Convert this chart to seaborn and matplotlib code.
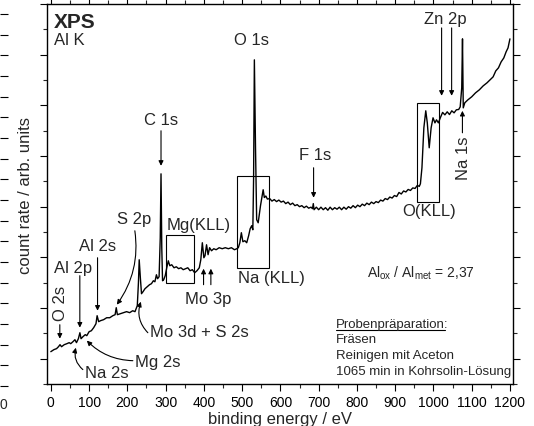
import matplotlib
matplotlib.use("Agg")
import matplotlib.pyplot as plt
import seaborn as sns
import pandas as pd
from matplotlib.patches import Rectangle
from matplotlib.lines import Line2D
from matplotlib.ticker import MultipleLocator

# ---------------- data ----------------
energy = [0, 8, 15, 20, 24, 28, 35, 42, 48, 52, 58, 63, 67, 72, 76, 79, 84, 90, 94, 100,
          106, 112, 118, 121, 125, 130, 138, 146, 154, 162, 168, 171, 174, 182, 190, 198, 206, 214, 220, 226,
          229, 231, 234, 237, 241, 246, 252, 258, 263, 268, 272, 276, 279, 283, 286, 288, 290, 292, 295, 299,
          303, 307, 311, 316, 322, 328, 334, 340, 346, 352, 358, 364, 370, 376, 382, 388, 392, 396, 400, 403,
          407, 411, 415, 420, 426, 432, 440, 448, 456, 464, 472, 480, 486, 490, 494, 498, 502, 507, 512, 517,
          521, 525, 528, 530, 532, 535, 538, 542, 548, 555, 558, 562, 566, 572, 578, 584, 590, 596, 602, 608,
          614, 620, 626, 632, 638, 644, 650, 656, 662, 668, 674, 680, 684, 686, 688, 694, 700, 706, 712, 718,
          724, 730, 736, 742, 748, 754, 760, 766, 772, 778, 784, 790, 796, 802, 808, 814, 820, 826, 832, 838,
          844, 850, 856, 862, 868, 874, 880, 886, 892, 898, 904, 910, 916, 922, 928, 934, 940, 946, 952, 958,
          963, 966, 970, 975, 980, 984, 989, 994, 999, 1004, 1008, 1013, 1018, 1024, 1030, 1036, 1042, 1048, 1054, 1060,
          1066, 1070, 1074, 1076, 1078, 1082, 1090, 1100, 1110, 1120, 1130, 1140, 1148, 1156, 1163, 1170, 1177, 1184, 1190, 1195,
          1200]
counts = [0.69, 0.89, 0.99, 1.18, 1.38, 1.18, 1.38, 1.48, 1.58, 1.48, 1.68, 1.87, 1.58, 1.97, 2.56, 1.97, 2.17, 2.37, 2.27, 2.66,
          2.76, 3.06, 3.45, 4.24, 3.65, 3.75, 3.85, 4.04, 4.04, 4.24, 4.34, 5.03, 4.34, 4.44, 4.54, 4.64, 4.54, 4.73, 4.64, 5.23,
          7.50, 9.76, 7.99, 6.41, 6.61, 6.90, 7.10, 7.30, 7.40, 7.69, 7.59, 8.28, 7.89, 8.09, 11.93, 18.24, 10.95, 7.69, 7.79, 8.19,
          8.97, 9.66, 9.17, 9.27, 8.97, 9.07, 8.88, 8.97, 8.78, 8.88, 8.97, 8.68, 8.78, 8.48, 8.68, 8.97, 9.76, 11.44, 9.96, 10.16,
          11.24, 10.26, 10.95, 10.65, 10.85, 10.75, 10.95, 10.85, 10.95, 10.85, 10.95, 10.75, 10.85, 10.95, 11.44, 12.43, 11.54, 11.64, 11.44, 12.13,
          12.82, 13.12, 12.72, 17.85, 29.49, 20.81, 13.71, 13.41, 15.09, 16.67, 15.90, 16.05, 15.75, 15.80, 15.55, 15.70, 15.50, 15.65, 15.45, 15.55,
          15.30, 15.45, 15.20, 15.35, 15.10, 15.20, 15.00, 15.10, 14.90, 15.05, 14.85, 14.95, 14.80, 15.30, 14.70, 14.95, 14.70, 14.95, 14.70, 14.90,
          14.65, 14.95, 14.70, 14.90, 14.75, 14.95, 14.70, 14.95, 14.75, 15.00, 14.85, 15.10, 14.90, 15.15, 15.00, 15.25, 15.10, 15.35, 15.20, 15.45,
          15.30, 15.50, 15.40, 15.65, 15.55, 15.80, 15.70, 15.95, 15.85, 16.10, 16.00, 16.40, 16.25, 16.55, 16.45, 16.70, 16.60, 16.85, 16.80, 17.10,
          17.00, 17.26, 18.84, 22.78, 24.46, 23.27, 20.81, 22.78, 23.77, 23.27, 23.57, 23.27, 23.77, 24.30, 24.06, 24.36, 24.09, 24.46, 24.26, 24.56,
          24.59, 24.85, 26.73, 31.56, 24.75, 25.25, 25.54, 25.84, 26.23, 26.53, 26.92, 27.22, 27.51, 27.81, 28.40, 28.70, 29.29, 29.68, 30.28, 30.67,
          31.56]

peak_labels = ["O 1s", "C 1s", "F 1s", "Zn 2p", "Na 1s", "O(KLL)", "Na (KLL)", "Mg(KLL)", "Mo 3p",
               "Mo 3d + S 2s", "S 2p", "Al 2s", "Al 2p", "O 2s", "Na 2s", "Mg 2s"]
xticks = [0, 100, 200, 300, 400, 500, 600, 700, 800, 900, 1000, 1100, 1200]

df = pd.DataFrame({"energy": energy, "counts": counts})

# ---------------- style ----------------
sns.set_style("ticks")
plt.rcParams["font.family"] = ["Liberation Sans", "DejaVu Sans"]
plt.rcParams["mathtext.fontset"] = "custom"
plt.rcParams["mathtext.rm"] = "Liberation Sans"

W, H = 534, 427
fig = plt.figure(figsize=(W / 100, H / 100), dpi=100)
fig.patch.set_facecolor("white")

# ghost fragment of a neighbouring panel at the left edge
gax = fig.add_axes([-0.2, 1 - 387 / H, 0.2, (387 - 15) / H])
for s in gax.spines.values():
    s.set_visible(False)
gax.set_ylim(0, 18)
gax.set_yticks(range(19))
gax.yaxis.tick_right()
gax.tick_params(axis="y", direction="out", length=6, width=0.8, colors="black", labelright=False)
gax.set_xticks([])
gax.patch.set_alpha(0)
fig.text(0.0, 1 - 405 / H, "0", fontsize=10, ha="left", va="center")

ax = fig.add_axes([47 / W, 1 - 385 / H, 466 / W, 380 / H])
sns.lineplot(data=df, x="energy", y="counts", ax=ax, color="black", lw=1.0,
             sort=False, estimator=None)

ax.set_xlim(-10, 1208)
ax.set_ylim(-2.5, 35)
ax.set_xticks(xticks)
ax.xaxis.set_minor_locator(MultipleLocator(50))
ax.yaxis.set_major_locator(MultipleLocator(5))
ax.yaxis.set_minor_locator(MultipleLocator(2.5))
ax.tick_params(which="major", direction="out", length=5, width=0.8, top=True, right=True,
               labelleft=False, labelsize=10, pad=3, colors="black")
ax.tick_params(which="minor", direction="out", length=3, width=0.8, top=True, right=True)
for s in ax.spines.values():
    s.set_linewidth(1.0)
    s.set_color("black")
    s.set_visible(True)

ax.set_xlabel("binding energy / eV", fontsize=12)
ax.xaxis.set_label_coords(0.5, -0.071)
ax.set_ylabel("count rate / arb. units", fontsize=12)
ax.yaxis.set_label_coords(-0.030, 0.5)

# title texts
ax.text(0.015, 0.953, "XPS", transform=ax.transAxes, fontsize=15, fontweight="bold", va="center", ha="left")
ax.text(0.015, 0.906, "Al K", transform=ax.transAxes, fontsize=12, va="center", ha="left")

FS = 12
arrow = dict(arrowstyle="-|>", color="black", lw=0.8, mutation_scale=7, shrinkA=0, shrinkB=0)

def label(txt, x, y, **kw):
    ax.text(x, y, txt, fontsize=FS, ha=kw.pop("ha", "center"), va=kw.pop("va", "center"), **kw)

def arr(x0, y0, x1, y1, rad=0.0):
    a = dict(arrow)
    a["connectionstyle"] = f"arc3,rad={rad}"
    ax.annotate("", xy=(x1, y1), xytext=(x0, y0), arrowprops=a)

label(peak_labels[0], 525.5, 31.46)
label(peak_labels[1], 287.6, 23.57)
arr(288, 22.49, 288, 19.03)
label(peak_labels[2], 690, 20.12)
arr(686.8, 18.84, 686.8, 15.88)
label(peak_labels[3], 1030, 33.53)
arr(1021.4, 32.64, 1021.4, 25.94)
arr(1047.6, 32.64, 1047.6, 25.94)
label(peak_labels[4], 1079, 19.9, rotation=90)
arr(1075.8, 22.29, 1075.8, 24.46)
label(peak_labels[5], 988, 14.60)
label(peak_labels[6], 577.8, 7.99)
label(peak_labels[7], 387, 13.21)
label(peak_labels[8], 410.5, 5.92)
arr(399.2, 7.30, 399.2, 8.88)
arr(418.3, 7.30, 418.3, 8.88)
label(peak_labels[9], 259, 2.66, ha="left")
arr(253.6, 2.56, 235.3, 5.62, rad=-0.3)
label(peak_labels[10], 217, 13.81)
arr(219.6, 12.62, 172.5, 5.33, rad=-0.2)
label(peak_labels[11], 122.9, 11.14)
arr(122.1, 9.96, 122.1, 4.73)
label(peak_labels[12], 57.5, 8.97)
arr(75.8, 8.19, 75.8, 3.06)
label(peak_labels[13], 26.1, 5.52, rotation=90)
arr(23.5, 3.35, 23.5, 1.97)
label(peak_labels[14], 89, -1.38, ha="left")
arr(83.7, -1.08, 65.4, 1.08, rad=-0.3)
label(peak_labels[15], 219.6, -0.30, ha="left")
arr(214.4, -0.20, 94.1, 1.78, rad=-0.2)

# boxes around Auger lines
boxes = [(300, 375, 7.50, 12.23), (487, 571, 8.97, 18.02), (957.6, 1015, 15.48, 25.25)]
for x0, x1, y0, y1 in boxes:
    ax.add_patch(Rectangle((x0, y0), x1 - x0, y1 - y0, fill=False, ec="black", lw=0.8))

ax.text(0.8026, 0.2947, r"Al$_{\mathrm{ox}}$ / Al$_{\mathrm{met}}$ = 2,37", transform=ax.transAxes,
        fontsize=10, ha="center", va="center")

lines = ["Probenpräparation:", "Fräsen", "Reinigen mit Aceton", "1065 min in Kohrsolin-Lösung"]
ys = [0.158, 0.118, 0.076, 0.034]
for t, yy in zip(lines, ys):
    ax.text(0.620, yy, t, transform=ax.transAxes, fontsize=9.5, ha="left", va="center")
ax.add_line(Line2D([0.620, 0.854], [0.141, 0.141], transform=ax.transAxes, color="black", lw=0.8))

fig.savefig("out.png", dpi=100, facecolor="white")
